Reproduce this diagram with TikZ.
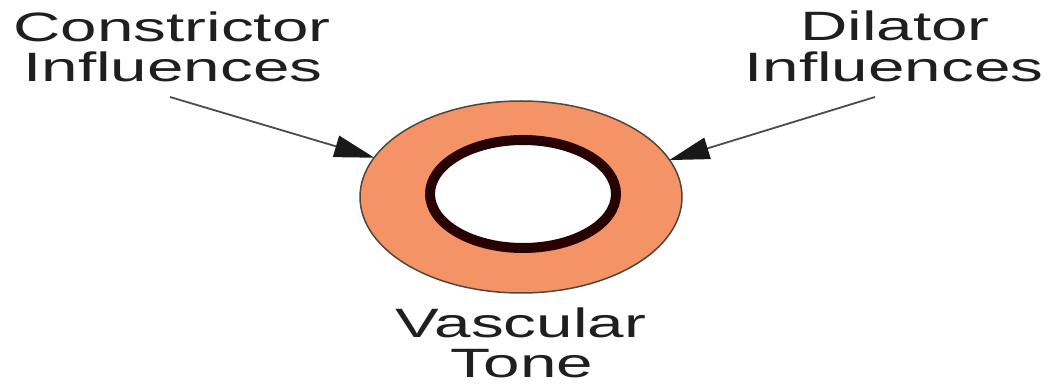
\documentclass[tikz,border=0pt]{standalone}
\usepackage{fontspec}
\setmainfont{Liberation Sans}
\usepackage{graphicx}
\usetikzlibrary{arrows.meta,shapes.geometric}
\definecolor{ringfill}{RGB}{244,148,102}
\definecolor{ringedge}{RGB}{80,70,60}
\definecolor{lumen}{RGB}{40,0,0}
\newcommand\wtxt[1]{\scalebox{1.6}[1]{#1}}
\tikzset{
  lbl/.style={anchor=base, inner sep=0pt, font=\fontsize{41}{40}\selectfont, text=black!88},
  infl/.style={draw=black!70, line width=1.8pt, -{Triangle[length=40pt,width=22pt,color=black!90]}, shorten >=-1pt},
}
\begin{document}
\begin{tikzpicture}[x=1pt,y=-1pt]
\useasboundingbox (0,0) rectangle (1050,387);
\fill[white] (0,0) rectangle (1050,387);
\node[ellipse, draw=ringedge, line width=1.5pt, fill=ringfill, minimum width=322pt, minimum height=192pt, inner sep=0pt] (ring) at (521,197) {};
\node[ellipse, draw=lumen, line width=10pt, fill=white, minimum width=186pt, minimum height=108pt, inner sep=0pt] (lumen) at (523,194) {};
\node[lbl] (con1) at (172,41.5) {\wtxt{Constrictor}};
\node[lbl] (con2) at (173,82) {\wtxt{Influences}};
\node[lbl] (dil1) at (895,41) {\wtxt{Dilator}};
\node[lbl] (dil2) at (894,82) {\wtxt{Influences}};
\node[lbl] (tone1) at (521,338) {\wtxt{Vascular}};
\node[lbl] (tone2) at (522,377.5) {\wtxt{Tone}};
\coordinate (c1) at (170,97);
\coordinate (d1) at (875,97);
\draw[infl] (c1) -- (ring.165.7);
\draw[infl] (d1) -- (ring.14);
\end{tikzpicture}
\end{document}
